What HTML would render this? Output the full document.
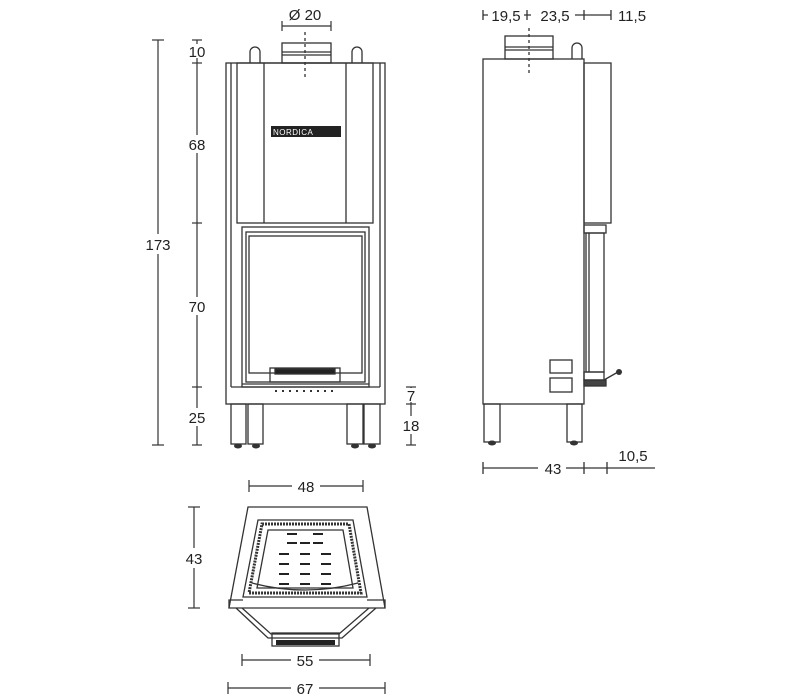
<!DOCTYPE html>
<html><head><meta charset="utf-8"><style>
html,body{margin:0;padding:0;background:#fff;}
svg{display:block;}
text{font-family:"Liberation Sans",sans-serif;font-size:15px;fill:#222;}
</style></head><body>
<svg width="800" height="700" viewBox="0 0 800 700" xmlns="http://www.w3.org/2000/svg">
<g stroke="#333" stroke-width="1.3" fill="none">
<!-- FRONT VIEW -->
<!-- chimney -->
<rect x="282" y="43" width="49" height="20"/>
<line x1="282" y1="52" x2="331" y2="52"/><line x1="282" y1="55" x2="331" y2="55"/>
<line x1="305" y1="32" x2="305" y2="80" stroke-dasharray="3,3"/>
<!-- handles -->
<path d="M250 63 V52 a5 5 0 0 1 10 0 V63"/>
<path d="M352 63 V52 a5 5 0 0 1 10 0 V63"/>
<!-- body -->
<rect x="226" y="63" width="159" height="341"/>
<line x1="231" y1="63" x2="231" y2="387"/>
<line x1="380" y1="63" x2="380" y2="387"/>
<rect x="237" y="63" width="136" height="160"/>
<line x1="264" y1="63" x2="264" y2="223"/>
<line x1="346" y1="63" x2="346" y2="223"/>
<line x1="231" y1="387" x2="380" y2="387"/>
<!-- door -->
<rect x="242" y="227" width="127" height="160"/>
<rect x="246" y="232" width="119" height="150"/>
<rect x="249" y="236" width="113" height="137"/>
<line x1="242" y1="384" x2="369" y2="384"/>
<rect x="270" y="368" width="70" height="14"/>
<rect x="275" y="369" width="60" height="5" fill="#222"/>
<!-- legs -->
<rect x="231" y="404" width="15" height="40"/>
<rect x="248" y="404" width="15" height="40"/>
<rect x="347" y="404" width="16" height="40"/>
<rect x="364" y="404" width="16" height="40"/>
</g>
<g fill="#333">
<ellipse cx="238" cy="446" rx="4" ry="2.5"/><ellipse cx="256" cy="446" rx="4" ry="2.5"/>
<ellipse cx="355" cy="446" rx="4" ry="2.5"/><ellipse cx="372" cy="446" rx="4" ry="2.5"/>
<rect x="275" y="390" width="2" height="2"/><rect x="282" y="390" width="2" height="2"/>
<rect x="289" y="390" width="2" height="2"/><rect x="296" y="390" width="2" height="2"/>
<rect x="303" y="390" width="2" height="2"/><rect x="310" y="390" width="2" height="2"/>
<rect x="317" y="390" width="2" height="2"/><rect x="324" y="390" width="2" height="2"/>
<rect x="331" y="390" width="2" height="2"/>
<rect x="271" y="126" width="70" height="11" fill="#222"/>
</g>
<text x="273" y="135" style="font-size:8px;fill:#fff;letter-spacing:0.5px">NORDICA</text>

<!-- front dims -->
<g stroke="#333" stroke-width="1.2" fill="none">
<line x1="282" y1="26" x2="331" y2="26"/><line x1="282" y1="21" x2="282" y2="31"/><line x1="331" y1="21" x2="331" y2="31"/>
<line x1="158" y1="40" x2="158" y2="445"/><line x1="152" y1="40" x2="164" y2="40"/><line x1="152" y1="445" x2="164" y2="445"/>
<line x1="197" y1="40" x2="197" y2="445"/>
<line x1="192" y1="40" x2="202" y2="40"/><line x1="192" y1="63" x2="202" y2="63"/>
<line x1="192" y1="223" x2="202" y2="223"/><line x1="192" y1="387" x2="202" y2="387"/>
<line x1="192" y1="445" x2="202" y2="445"/>
<line x1="411" y1="387" x2="411" y2="445"/><line x1="406" y1="387" x2="416" y2="387"/>
<line x1="406" y1="404" x2="416" y2="404"/><line x1="406" y1="445" x2="416" y2="445"/>
</g>
<rect x="188" y="44" width="18" height="14" fill="#fff"/>
<rect x="186" y="135" width="22" height="18" fill="#fff"/>
<rect x="186" y="297" width="22" height="18" fill="#fff"/>
<rect x="186" y="408" width="22" height="18" fill="#fff"/>
<rect x="140" y="234" width="36" height="20" fill="#fff"/>
<rect x="402" y="388" width="18" height="14" fill="#fff"/>
<rect x="400" y="416" width="24" height="18" fill="#fff"/>
<text x="305" y="20" text-anchor="middle">Ø 20</text>
<text x="197" y="57" text-anchor="middle">10</text>
<text x="197" y="150" text-anchor="middle">68</text>
<text x="197" y="312" text-anchor="middle">70</text>
<text x="197" y="423" text-anchor="middle">25</text>
<text x="158" y="250" text-anchor="middle">173</text>
<text x="411" y="401" text-anchor="middle">7</text>
<text x="411" y="431" text-anchor="middle">18</text>

<!-- SIDE VIEW -->
<g stroke="#333" stroke-width="1.3" fill="none">
<rect x="505" y="36" width="48" height="23"/>
<line x1="505" y1="47" x2="553" y2="47"/><line x1="505" y1="50" x2="553" y2="50"/>
<line x1="529" y1="28" x2="529" y2="74" stroke-dasharray="3,3"/>
<path d="M572 59 V48 a5 5 0 0 1 10 0 V59"/>
<rect x="483" y="59" width="101" height="345"/>
<rect x="584" y="63" width="27" height="160"/>
<rect x="584" y="225" width="22" height="8"/>
<rect x="586" y="233" width="18" height="139"/>
<line x1="589" y1="233" x2="589" y2="372"/>
<rect x="584" y="372" width="20" height="8"/>
<rect x="584" y="380" width="22" height="6" fill="#444"/>
<line x1="604" y1="380" x2="618" y2="372"/>
<rect x="550" y="360" width="22" height="13"/>
<rect x="550" y="378" width="22" height="14"/>
<rect x="484" y="404" width="16" height="38"/>
<rect x="567" y="404" width="15" height="38"/>
<!-- side dims -->
<line x1="483" y1="15" x2="611" y2="15"/>
<line x1="483" y1="10" x2="483" y2="20"/><line x1="527" y1="10" x2="527" y2="20"/>
<line x1="584" y1="10" x2="584" y2="20"/><line x1="611" y1="10" x2="611" y2="20"/>
<line x1="483" y1="468" x2="655" y2="468"/>
<line x1="483" y1="462" x2="483" y2="474"/><line x1="584" y1="462" x2="584" y2="474"/>
<line x1="607" y1="462" x2="607" y2="474"/>
</g>
<g fill="#333">
<circle cx="619" cy="372" r="3"/>
<ellipse cx="492" cy="443" rx="4" ry="2.5"/><ellipse cx="574" cy="443" rx="4" ry="2.5"/>
</g>
<rect x="488" y="4" width="36" height="20" fill="#fff"/>
<rect x="531" y="4" width="44" height="20" fill="#fff"/>
<rect x="538" y="458" width="28" height="20" fill="#fff"/>
<text x="506" y="21" text-anchor="middle">19,5</text>
<text x="555" y="21" text-anchor="middle">23,5</text>
<text x="632" y="21" text-anchor="middle">11,5</text>
<text x="553" y="474" text-anchor="middle">43</text>
<text x="633" y="461" text-anchor="middle">10,5</text>

<!-- TOP VIEW -->
<g stroke="#333" stroke-width="1.3" fill="none">
<path d="M248 507 H367 L385 608 H229 Z"/>
<path d="M258 520 H353 L367 597 H243 Z"/>
<path d="M262 524 H349 L361 593 H249 Z" stroke-width="3" stroke-dasharray="2,1"/>
<path d="M268 530 H343 L353 588 H257 Z"/>
<path d="M252 583 Q305 597 358 583"/>
<path d="M229 608 V600 H243 M385 608 V600 H367"/>
<path d="M242 608 L271 634 H339 L369 608"/>
<path d="M236 608 L268 638 H342 L376 608"/>
<rect x="272" y="633" width="67" height="13"/>
</g>
<g fill="#222">
<rect x="276" y="640" width="59" height="5"/>
<rect x="287" y="533" width="10" height="2"/><rect x="313" y="533" width="10" height="2"/>
<rect x="300" y="542" width="10" height="2"/><rect x="287" y="542" width="10" height="2"/><rect x="313" y="542" width="10" height="2"/>
<rect x="279" y="553" width="10" height="2"/><rect x="300" y="553" width="10" height="2"/><rect x="321" y="553" width="10" height="2"/>
<rect x="279" y="563" width="10" height="2"/><rect x="300" y="563" width="10" height="2"/><rect x="321" y="563" width="10" height="2"/>
<rect x="279" y="573" width="10" height="2"/><rect x="300" y="573" width="10" height="2"/><rect x="321" y="573" width="10" height="2"/>
<rect x="279" y="583" width="10" height="2"/><rect x="300" y="583" width="10" height="2"/><rect x="321" y="583" width="10" height="2"/>
</g>
<g stroke="#333" stroke-width="1.2" fill="none">
<line x1="249" y1="486" x2="363" y2="486"/><line x1="249" y1="480" x2="249" y2="492"/><line x1="363" y1="480" x2="363" y2="492"/>
<line x1="194" y1="507" x2="194" y2="608"/><line x1="188" y1="507" x2="200" y2="507"/><line x1="188" y1="608" x2="200" y2="608"/>
<line x1="242" y1="660" x2="370" y2="660"/><line x1="242" y1="654" x2="242" y2="666"/><line x1="370" y1="654" x2="370" y2="666"/>
<line x1="228" y1="688" x2="385" y2="688"/><line x1="228" y1="682" x2="228" y2="694"/><line x1="385" y1="682" x2="385" y2="694"/>
</g>
<rect x="292" y="476" width="28" height="20" fill="#fff"/>
<rect x="184" y="548" width="22" height="20" fill="#fff"/>
<rect x="291" y="650" width="28" height="20" fill="#fff"/>
<rect x="291" y="678" width="28" height="20" fill="#fff"/>
<text x="306" y="492" text-anchor="middle">48</text>
<text x="194" y="564" text-anchor="middle">43</text>
<text x="305" y="666" text-anchor="middle">55</text>
<text x="305" y="694" text-anchor="middle">67</text>
</svg>
</body></html>
